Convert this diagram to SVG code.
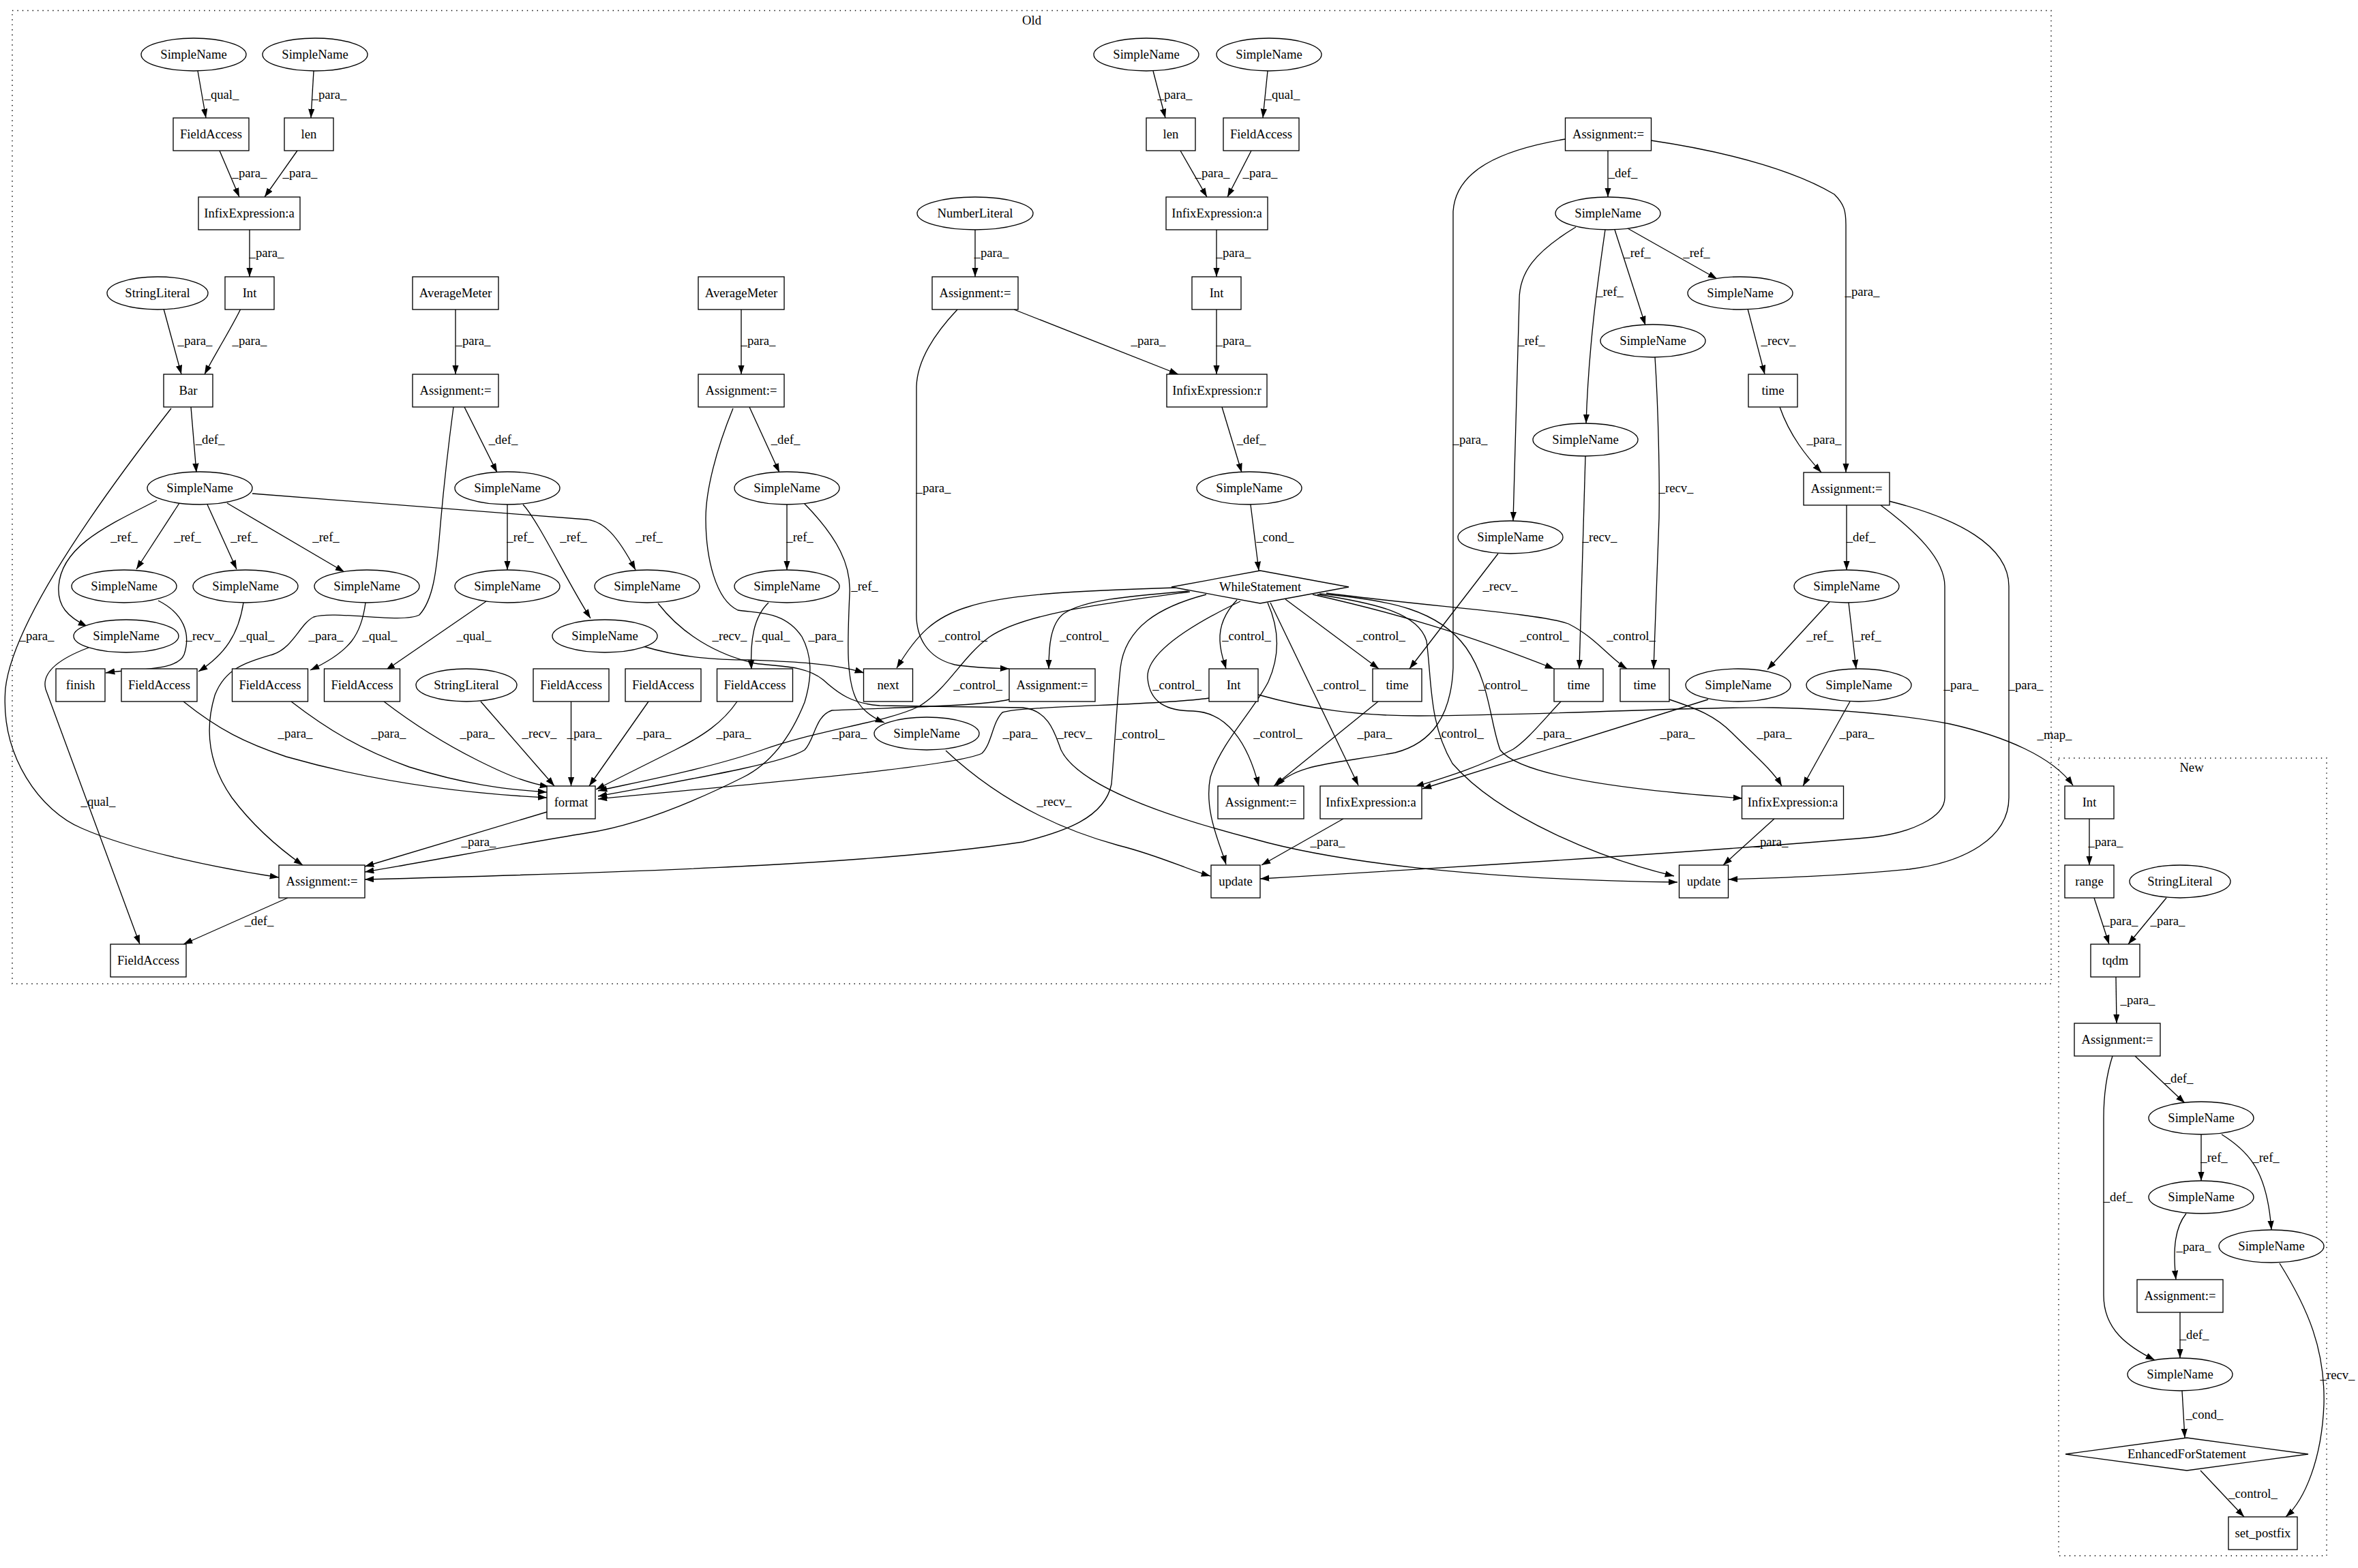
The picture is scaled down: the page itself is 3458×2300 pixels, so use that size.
<svg xmlns="http://www.w3.org/2000/svg" width="3458" height="2300" viewBox="0 0 3458 2300">
<style>
.n rect,.n ellipse,.n polygon{fill:#fff;stroke:#000;stroke-width:1.33}
text{font-family:"Liberation Serif","Times New Roman",serif;font-size:18.67px;text-anchor:middle;fill:#000}
.e path{fill:none;stroke:#000;stroke-width:1.33;marker-end:url(#ah)}
.cl{fill:none;stroke:#000;stroke-width:1.4;stroke-dasharray:1.4,6}
</style>
<defs>
<marker id="ah" markerWidth="14" markerHeight="10" refX="13.3" refY="4.65" orient="auto" markerUnits="userSpaceOnUse"><path d="M0,0 L13.3,4.65 L0,9.3 z" fill="#000"/></marker>
</defs>
<rect width="3458" height="2300" fill="#fff"/>
<g id="cluster_old"><rect class="cl" x="18" y="15.5" width="2990" height="1427.5"/><text x="1513" y="36">Old</text></g>
<g id="cluster_new"><rect class="cl" x="3019" y="1112" width="393" height="1170"/><text x="3214" y="1132">New</text></g>
<g id="connectors" class="e">
<path d="M290,104 L302,173"/><text x="325" y="145">_qual_</text>
<path d="M460,104 L456,173"/><text x="483" y="145">_para_</text>
<path d="M322,221 L351,289"/><text x="366" y="260">_para_</text>
<path d="M436,221 L388,289"/><text x="440" y="260">_para_</text>
<path d="M366,337 L366,406"/><text x="391" y="377">_para_</text>
<path d="M240,453 L266,549"/><text x="286" y="506">_para_</text>
<path d="M353,453 C340,480 315,520 300,549"/><text x="366" y="506">_para_</text>
<path d="M668,453 L668,549"/><text x="694" y="506">_para_</text>
<path d="M280,597 L288,693"/><text x="308" y="651">_def_</text>
<path d="M251,599 C180,690 20,900 8,1010 C0,1110 60,1190 120,1215 C200,1250 330,1275 409,1287"/><text x="54" y="939">_para_</text>
<path d="M681,597 L729,693"/><text x="738" y="651">_def_</text>
<path d="M665,597 C658,650 650,720 645,780 C640,840 635,880 615,902 C590,915 490,895 460,905 C440,915 430,950 400,960 C360,972 330,980 315,1020 C300,1070 305,1120 340,1170 C370,1210 410,1245 444,1269"/><text x="478" y="939">_para_</text>
<path d="M230,734 C160,770 90,800 86,860 C84,890 100,905 128,919"/><text x="182" y="794">_ref_</text>
<path d="M263,738 L200,835"/><text x="275" y="794">_ref_</text>
<path d="M304,740 L347,835"/><text x="358" y="794">_ref_</text>
<path d="M333,738 L505,839"/><text x="478" y="794">_ref_</text>
<path d="M370,724 L860,762 C885,764 905,785 932,836"/><text x="952" y="794">_ref_</text>
<path d="M744,740 L744,836"/><text x="763" y="794">_ref_</text>
<path d="M767,740 C790,765 830,850 866,907"/><text x="841" y="794">_ref_</text>
<path d="M1154,740 L1154,836"/><text x="1173" y="794">_ref_</text>
<path d="M1179,738 C1230,790 1248,830 1246,870 C1243,940 1240,1000 1258,1030 C1268,1045 1285,1055 1297,1060"/><text x="1268" y="866">_ref_</text>
<path d="M232,881 C270,900 280,930 270,960 C260,985 200,980 155,987"/><text x="298" y="939">_recv_</text>
<path d="M357,884 C350,930 330,960 291,985"/><text x="377" y="939">_qual_</text>
<path d="M536,884 C530,930 515,955 455,983"/><text x="557" y="939">_qual_</text>
<path d="M713,882 L566,983"/><text x="695" y="939">_qual_</text>
<path d="M130,950 C90,965 60,985 67,1011 L205,1385"/><text x="144" y="1182">_qual_</text>
<path d="M965,885 C1000,930 1050,960 1107,973 C1140,978 1180,975 1207,997 C1230,1018 1250,1032 1290,1035 L1500,1038 C1540,1042 1548,1080 1556,1100 C1580,1150 1700,1195 1840,1231 C1950,1262 2150,1290 2460,1294"/><text x="1576" y="1082">_recv_</text>
<path d="M943,948 C1000,965 1050,968 1100,968 C1150,970 1220,972 1267,987"/><text x="1070" y="939">_recv_</text>
<path d="M1127,884 C1105,905 1100,940 1102,982"/><text x="1133" y="939">_qual_</text>
<path d="M1075,599 C1050,660 1035,720 1035,760 C1035,820 1050,880 1082,895 C1110,900 1150,895 1176,934 C1190,960 1192,990 1180,1030 C1160,1080 1130,1120 1090,1140 C1030,1170 940,1210 860,1222 C760,1238 620,1265 535,1279"/><text x="1211" y="939">_para_</text>
<path d="M1404,454 C1370,490 1345,530 1344,567 L1344,895 C1342,935 1360,965 1400,975 C1430,980 1460,980 1480,981"/><text x="1369" y="722">_para_</text>
<path d="M1725,862 C1600,866 1480,870 1420,890 C1370,905 1345,930 1315,980"/><text x="1412" y="939">_control_</text>
<path d="M1743,867 C1650,875 1590,880 1560,900 C1540,915 1538,950 1538,981"/><text x="1590" y="939">_control_</text>
<path d="M1745,868 C1620,885 1500,900 1450,935 C1410,965 1390,1010 1348,1036 C1300,1060 1200,1070 1115,1101 C1030,1130 920,1150 877,1160"/><text x="1434" y="1011">_control_</text>
<path d="M1480,1026 C1440,1036 1300,1038 1220,1042 C1195,1050 1195,1085 1180,1100 C1150,1120 1000,1145 877,1168"/><text x="1246" y="1082">_para_</text>
<path d="M1773,1024 C1700,1035 1500,1035 1470,1045 C1455,1060 1455,1090 1440,1105 C1400,1125 1100,1150 877,1172"/><text x="1496" y="1082">_para_</text>
<path d="M1845,1019 C1920,1040 1990,1050 2080,1050 C2300,1048 2500,1036 2600,1038 C2700,1040 2800,1050 2860,1062 C2940,1080 3010,1110 3040,1152"/><text x="3013" y="1084">_map_</text>
<path d="M1859,884 C1875,920 1878,960 1860,1000 C1840,1040 1790,1090 1775,1140 C1765,1190 1790,1240 1798,1268"/><text x="1874" y="1082">_control_</text>
<path d="M1769,872 C1700,890 1650,920 1643,980 C1638,1030 1635,1090 1630,1150 C1620,1200 1560,1220 1500,1235 C1300,1265 1000,1278 535,1290"/><text x="1672" y="1083">_control_</text>
<path d="M1814,880 C1795,900 1788,920 1789,940 C1790,960 1795,970 1798,981"/><text x="1828" y="939">_control_</text>
<path d="M1819,882 C1740,920 1680,960 1683,995 C1686,1030 1710,1043 1750,1043 C1800,1045 1830,1090 1846,1153"/><text x="1726" y="1011">_control_</text>
<path d="M1885,879 L2022,981"/><text x="2025" y="939">_control_</text>
<path d="M1863,884 L1992,1152"/><text x="1967" y="1011">_control_</text>
<path d="M1925,872 C2050,900 2150,930 2279,981"/><text x="2265" y="939">_control_</text>
<path d="M1945,870 C2100,890 2260,900 2300,915 C2340,935 2360,965 2386,981"/><text x="2392" y="939">_control_</text>
<path d="M1932,872 C2020,885 2080,900 2092,940 C2100,1000 2095,1060 2130,1120 C2200,1200 2350,1260 2455,1285"/><text x="2140" y="1082">_control_</text>
<path d="M1935,871 C2040,880 2110,895 2150,950 C2185,1000 2185,1060 2200,1100 C2230,1140 2400,1160 2555,1171"/><text x="2204" y="1011">_control_</text>
<path d="M2563,453 L2588,549"/><text x="2608" y="506">_recv_</text>
<path d="M2610,597 C2625,640 2650,670 2671,693"/><text x="2675" y="651">_para_</text>
<path d="M2421,206 C2550,225 2640,255 2690,285 C2705,300 2707,310 2707,330 L2707,693"/><text x="2731" y="434">_para_</text>
<path d="M2358,221 L2358,289"/><text x="2380" y="260">_def_</text>
<path d="M2296,204 C2200,220 2135,250 2131,310 L2131,980 C2128,1050 2100,1090 2046,1104 C1960,1120 1900,1120 1872,1153"/><text x="2156" y="651">_para_</text>
<path d="M2021,1029 L1868,1153"/><text x="2016" y="1082">_para_</text>
<path d="M2197,812 L2067,981"/><text x="2200" y="866">_recv_</text>
<path d="M2387,335 L2518,409"/><text x="2488" y="377">_ref_</text>
<path d="M2368,337 L2413,477"/><text x="2401" y="377">_ref_</text>
<path d="M2354,337 C2345,400 2330,500 2326,621"/><text x="2361" y="434">_ref_</text>
<path d="M2311,333 C2250,370 2228,400 2228,440 L2219,764"/><text x="2246" y="506">_ref_</text>
<path d="M2427,524 C2432,600 2434,700 2433,760 L2425,981"/><text x="2458" y="722">_recv_</text>
<path d="M2325,669 L2316,981"/><text x="2346" y="794">_recv_</text>
<path d="M2708,741 L2708,836"/><text x="2729" y="794">_def_</text>
<path d="M2758,741 C2810,780 2852,820 2852,860 L2852,1170 C2852,1200 2800,1222 2746,1228 C2500,1250 2000,1280 1848,1289"/><text x="2876" y="1011">_para_</text>
<path d="M2770,735 C2870,760 2946,800 2946,860 L2946,1170 C2946,1230 2880,1265 2800,1275 C2700,1285 2600,1288 2535,1290"/><text x="2971" y="1011">_para_</text>
<path d="M2683,883 L2592,982"/><text x="2669" y="939">_ref_</text>
<path d="M2711,884 L2722,981"/><text x="2739" y="939">_ref_</text>
<path d="M2505,1026 L2086,1157"/><text x="2460" y="1082">_para_</text>
<path d="M2713,1029 L2644,1153"/><text x="2723" y="1082">_para_</text>
<path d="M2289,1029 C2260,1060 2240,1085 2219,1099 C2170,1125 2120,1140 2075,1154"/><text x="2279" y="1082">_para_</text>
<path d="M2448,1026 C2490,1040 2515,1050 2540,1075 C2570,1105 2600,1130 2613,1153"/><text x="2602" y="1082">_para_</text>
<path d="M1970,1201 L1850,1269"/><text x="1947" y="1241">_para_</text>
<path d="M2602,1201 L2527,1269"/><text x="2597" y="1241">_para_</text>
<path d="M1387,1101 C1450,1160 1530,1210 1640,1240 C1700,1255 1740,1275 1775,1285"/><text x="1546" y="1182">_recv_</text>
<path d="M1834,740 L1846,837"/><text x="1870" y="794">_cond_</text>
<path d="M1792,597 L1821,693"/><text x="1835" y="651">_def_</text>
<path d="M1784,453 L1784,549"/><text x="1809" y="506">_para_</text>
<path d="M1784,337 L1784,406"/><text x="1809" y="377">_para_</text>
<path d="M1731,221 L1770,289"/><text x="1778" y="260">_para_</text>
<path d="M1835,221 L1800,289"/><text x="1848" y="260">_para_</text>
<path d="M1691,104 L1709,173"/><text x="1723" y="145">_para_</text>
<path d="M1859,104 L1852,173"/><text x="1881" y="145">_qual_</text>
<path d="M1430,337 L1430,406"/><text x="1454" y="377">_para_</text>
<path d="M1487,454 L1728,549"/><text x="1684" y="506">_para_</text>
<path d="M1087,453 L1087,549"/><text x="1112" y="506">_para_</text>
<path d="M1099,597 L1143,693"/><text x="1152" y="651">_def_</text>
<path d="M269,1029 C320,1070 360,1090 420,1110 C560,1150 700,1165 802,1170"/><text x="433" y="1082">_para_</text>
<path d="M427,1029 C480,1070 530,1100 600,1125 C680,1150 740,1158 802,1162"/><text x="570" y="1082">_para_</text>
<path d="M563,1029 C610,1065 660,1095 700,1115 C740,1135 770,1148 805,1154"/><text x="700" y="1082">_para_</text>
<path d="M705,1029 L813,1153"/><text x="791" y="1082">_recv_</text>
<path d="M837.5,1029 L837.5,1153"/><text x="857" y="1082">_para_</text>
<path d="M951,1029 L864,1153"/><text x="959" y="1082">_para_</text>
<path d="M1081,1029 C1060,1060 1030,1080 990,1100 C940,1125 900,1145 874,1158"/><text x="1076" y="1082">_para_</text>
<path d="M802,1191 L535,1271"/><text x="702" y="1241">_para_</text>
<path d="M422,1317 L269,1385"/><text x="380" y="1357">_def_</text>
<path d="M3064,1201 L3064,1269"/><text x="3088" y="1241">_para_</text>
<path d="M3071,1317 L3093,1385"/><text x="3110" y="1357">_para_</text>
<path d="M3177,1317 L3121,1385"/><text x="3179" y="1357">_para_</text>
<path d="M3103,1433 L3104,1501"/><text x="3135" y="1473">_para_</text>
<path d="M3131,1549 L3204,1618"/><text x="3195" y="1588">_def_</text>
<path d="M3098,1549 C3088,1580 3085,1610 3085,1640 L3085,1900 C3085,1950 3120,1975 3160,1995"/><text x="3106" y="1762">_def_</text>
<path d="M3228,1664 L3228,1732"/><text x="3247" y="1704">_ref_</text>
<path d="M3258,1664 C3300,1690 3325,1720 3331,1804"/><text x="3323" y="1704">_ref_</text>
<path d="M3206,1780 C3190,1800 3186,1830 3191,1877"/><text x="3217" y="1835">_para_</text>
<path d="M3197,1925 L3197,1992"/><text x="3218" y="1964">_def_</text>
<path d="M3200,2040 L3204,2109"/><text x="3233" y="2081">_cond_</text>
<path d="M3227,2157 L3291,2225"/><text x="3304" y="2197">_control_</text>
<path d="M3343,1853 C3385,1920 3410,1980 3408,2060 C3405,2140 3380,2200 3352,2225"/><text x="3428" y="2023">_recv_</text>
</g>
<g id="n_sn1" class="n"><ellipse cx="284" cy="80" rx="77" ry="24"/><text x="284" y="86">SimpleName</text></g>
<g id="n_sn2" class="n"><ellipse cx="462" cy="80" rx="77" ry="24"/><text x="462" y="86">SimpleName</text></g>
<g id="n_fa1" class="n"><rect x="254" y="173" width="111" height="48"/><text x="309.5" y="203">FieldAccess</text></g>
<g id="n_len1" class="n"><rect x="417" y="173" width="72" height="48"/><text x="453" y="203">len</text></g>
<g id="n_iea1" class="n"><rect x="291" y="289" width="149" height="48"/><text x="365.5" y="319">InfixExpression:a</text></g>
<g id="n_int1" class="n"><rect x="330" y="406" width="72" height="48"/><text x="366" y="436">Int</text></g>
<g id="n_sl1" class="n"><ellipse cx="231" cy="430" rx="74" ry="24"/><text x="231" y="436">StringLiteral</text></g>
<g id="n_am1" class="n"><rect x="605" y="406" width="126" height="48"/><text x="668" y="436">AverageMeter</text></g>
<g id="n_bar" class="n"><rect x="240" y="549" width="72" height="48"/><text x="276" y="579">Bar</text></g>
<g id="n_asgam1" class="n"><rect x="605" y="549" width="126" height="48"/><text x="668" y="579">Assignment:=</text></g>
<g id="n_snbar" class="n"><ellipse cx="293" cy="716" rx="77" ry="24"/><text x="293" y="722">SimpleName</text></g>
<g id="n_snam1" class="n"><ellipse cx="744" cy="716" rx="77" ry="24"/><text x="744" y="722">SimpleName</text></g>
<g id="n_am2" class="n"><rect x="1024" y="406" width="126" height="48"/><text x="1087" y="436">AverageMeter</text></g>
<g id="n_asgam2" class="n"><rect x="1024" y="549" width="126" height="48"/><text x="1087" y="579">Assignment:=</text></g>
<g id="n_snam2" class="n"><ellipse cx="1154" cy="716" rx="77" ry="24"/><text x="1154" y="722">SimpleName</text></g>
<g id="n_nl" class="n"><ellipse cx="1430" cy="313" rx="85" ry="24"/><text x="1430" y="319">NumberLiteral</text></g>
<g id="n_asgnl" class="n"><rect x="1367" y="406" width="126" height="48"/><text x="1430" y="436">Assignment:=</text></g>
<g id="n_sn3" class="n"><ellipse cx="1681" cy="80" rx="77" ry="24"/><text x="1681" y="86">SimpleName</text></g>
<g id="n_sn4" class="n"><ellipse cx="1861" cy="80" rx="77" ry="24"/><text x="1861" y="86">SimpleName</text></g>
<g id="n_len2" class="n"><rect x="1681" y="173" width="72" height="48"/><text x="1717" y="203">len</text></g>
<g id="n_fa2" class="n"><rect x="1794" y="173" width="111" height="48"/><text x="1849.5" y="203">FieldAccess</text></g>
<g id="n_iea2" class="n"><rect x="1710" y="289" width="149" height="48"/><text x="1784.5" y="319">InfixExpression:a</text></g>
<g id="n_int2" class="n"><rect x="1748" y="406" width="72" height="48"/><text x="1784" y="436">Int</text></g>
<g id="n_ier" class="n"><rect x="1711" y="549" width="147" height="48"/><text x="1784.5" y="579">InfixExpression:r</text></g>
<g id="n_snier" class="n"><ellipse cx="1832" cy="716" rx="77" ry="24"/><text x="1832" y="722">SimpleName</text></g>
<g id="n_while" class="n"><polygon points="1718,861 1848,837 1978,861 1848,885"/><text x="1848" y="867">WhileStatement</text></g>
<g id="n_a3" class="n"><rect x="2295.5" y="173" width="126" height="48"/><text x="2358.5" y="203">Assignment:=</text></g>
<g id="n_sa3" class="n"><ellipse cx="2358" cy="313" rx="77" ry="24"/><text x="2358" y="319">SimpleName</text></g>
<g id="n_sr1" class="n"><ellipse cx="2552" cy="430" rx="77" ry="24"/><text x="2552" y="436">SimpleName</text></g>
<g id="n_sr2" class="n"><ellipse cx="2424" cy="500" rx="77" ry="24"/><text x="2424" y="506">SimpleName</text></g>
<g id="n_sr3" class="n"><ellipse cx="2325" cy="645" rx="77" ry="24"/><text x="2325" y="651">SimpleName</text></g>
<g id="n_sr4" class="n"><ellipse cx="2215" cy="788" rx="77" ry="24"/><text x="2215" y="794">SimpleName</text></g>
<g id="n_time0" class="n"><rect x="2564" y="549" width="72" height="48"/><text x="2600" y="579">time</text></g>
<g id="n_a4" class="n"><rect x="2645" y="693" width="126" height="48"/><text x="2708" y="723">Assignment:=</text></g>
<g id="n_sa4" class="n"><ellipse cx="2708" cy="860" rx="77" ry="24"/><text x="2708" y="866">SimpleName</text></g>
<g id="n_st1" class="n"><ellipse cx="2549" cy="1005" rx="77" ry="24"/><text x="2549" y="1011">SimpleName</text></g>
<g id="n_st2" class="n"><ellipse cx="2726" cy="1005" rx="77" ry="24"/><text x="2726" y="1011">SimpleName</text></g>
<g id="n_sb1" class="n"><ellipse cx="182" cy="860" rx="77" ry="24"/><text x="182" y="866">SimpleName</text></g>
<g id="n_sb2" class="n"><ellipse cx="360" cy="860" rx="77" ry="24"/><text x="360" y="866">SimpleName</text></g>
<g id="n_sb3" class="n"><ellipse cx="538" cy="860" rx="77" ry="24"/><text x="538" y="866">SimpleName</text></g>
<g id="n_sam1a" class="n"><ellipse cx="744" cy="860" rx="77" ry="24"/><text x="744" y="866">SimpleName</text></g>
<g id="n_sb5" class="n"><ellipse cx="949" cy="860" rx="77" ry="24"/><text x="949" y="866">SimpleName</text></g>
<g id="n_sam2a" class="n"><ellipse cx="1154" cy="860" rx="77" ry="24"/><text x="1154" y="866">SimpleName</text></g>
<g id="n_sb4" class="n"><ellipse cx="185" cy="933" rx="77" ry="24"/><text x="185" y="939">SimpleName</text></g>
<g id="n_sam1b" class="n"><ellipse cx="887" cy="933" rx="77" ry="24"/><text x="887" y="939">SimpleName</text></g>
<g id="n_finish" class="n"><rect x="82" y="981" width="72" height="48"/><text x="118" y="1011">finish</text></g>
<g id="n_fab1" class="n"><rect x="178" y="981" width="111" height="48"/><text x="233.5" y="1011">FieldAccess</text></g>
<g id="n_fab2" class="n"><rect x="340.5" y="981" width="111" height="48"/><text x="396" y="1011">FieldAccess</text></g>
<g id="n_fab3" class="n"><rect x="475.5" y="981" width="111" height="48"/><text x="531" y="1011">FieldAccess</text></g>
<g id="n_sl2" class="n"><ellipse cx="684" cy="1005" rx="74" ry="24"/><text x="684" y="1011">StringLiteral</text></g>
<g id="n_fa4" class="n"><rect x="782" y="981" width="111" height="48"/><text x="837.5" y="1011">FieldAccess</text></g>
<g id="n_fa5" class="n"><rect x="917" y="981" width="111" height="48"/><text x="972.5" y="1011">FieldAccess</text></g>
<g id="n_fa6" class="n"><rect x="1051.5" y="981" width="111" height="48"/><text x="1107" y="1011">FieldAccess</text></g>
<g id="n_next" class="n"><rect x="1266.5" y="981" width="72" height="48"/><text x="1302.5" y="1011">next</text></g>
<g id="n_asgl" class="n"><rect x="1480" y="981" width="126" height="48"/><text x="1543" y="1011">Assignment:=</text></g>
<g id="n_sam2c" class="n"><ellipse cx="1359" cy="1076" rx="77" ry="24"/><text x="1359" y="1082">SimpleName</text></g>
<g id="n_int3" class="n"><rect x="1773" y="981" width="72" height="48"/><text x="1809" y="1011">Int</text></g>
<g id="n_time1" class="n"><rect x="2013" y="981" width="72" height="48"/><text x="2049" y="1011">time</text></g>
<g id="n_time2" class="n"><rect x="2279" y="981" width="72" height="48"/><text x="2315" y="1011">time</text></g>
<g id="n_time3" class="n"><rect x="2376" y="981" width="72" height="48"/><text x="2412" y="1011">time</text></g>
<g id="n_format" class="n"><rect x="802" y="1153" width="71" height="48"/><text x="837.5" y="1183">format</text></g>
<g id="n_asgt" class="n"><rect x="1786" y="1153" width="126" height="48"/><text x="1849" y="1183">Assignment:=</text></g>
<g id="n_iea3" class="n"><rect x="1936" y="1153" width="149" height="48"/><text x="2010.5" y="1183">InfixExpression:a</text></g>
<g id="n_iea4" class="n"><rect x="2554.5" y="1153" width="149" height="48"/><text x="2629" y="1183">InfixExpression:a</text></g>
<g id="n_asgm" class="n"><rect x="409" y="1269" width="126" height="48"/><text x="472" y="1299">Assignment:=</text></g>
<g id="n_upd1" class="n"><rect x="1776" y="1269" width="72" height="48"/><text x="1812" y="1299">update</text></g>
<g id="n_upd2" class="n"><rect x="2462.5" y="1269" width="72" height="48"/><text x="2498.5" y="1299">update</text></g>
<g id="n_fabot" class="n"><rect x="162" y="1385" width="111" height="48"/><text x="217.5" y="1415">FieldAccess</text></g>
<g id="n_nint" class="n"><rect x="3028" y="1153" width="72" height="48"/><text x="3064" y="1183">Int</text></g>
<g id="n_range" class="n"><rect x="3028" y="1269" width="72" height="48"/><text x="3064" y="1299">range</text></g>
<g id="n_nsl" class="n"><ellipse cx="3197" cy="1293" rx="74" ry="24"/><text x="3197" y="1299">StringLiteral</text></g>
<g id="n_tqdm" class="n"><rect x="3066" y="1385" width="72" height="48"/><text x="3102" y="1415">tqdm</text></g>
<g id="n_na1" class="n"><rect x="3042" y="1501" width="126" height="48"/><text x="3105" y="1531">Assignment:=</text></g>
<g id="n_n1" class="n"><ellipse cx="3228" cy="1640" rx="77" ry="24"/><text x="3228" y="1646">SimpleName</text></g>
<g id="n_n2" class="n"><ellipse cx="3228" cy="1756" rx="77" ry="24"/><text x="3228" y="1762">SimpleName</text></g>
<g id="n_n3" class="n"><ellipse cx="3331" cy="1828" rx="77" ry="24"/><text x="3331" y="1834">SimpleName</text></g>
<g id="n_na2" class="n"><rect x="3134" y="1877" width="126" height="48"/><text x="3197" y="1907">Assignment:=</text></g>
<g id="n_n4" class="n"><ellipse cx="3197" cy="2016" rx="77" ry="24"/><text x="3197" y="2022">SimpleName</text></g>
<g id="n_efs" class="n"><polygon points="3029,2133 3207,2109 3385,2133 3207,2157"/><text x="3207" y="2139">EnhancedForStatement</text></g>
<g id="n_setp" class="n"><rect x="3268" y="2225" width="101" height="48"/><text x="3318.5" y="2255">set_postfix</text></g>
</svg>
